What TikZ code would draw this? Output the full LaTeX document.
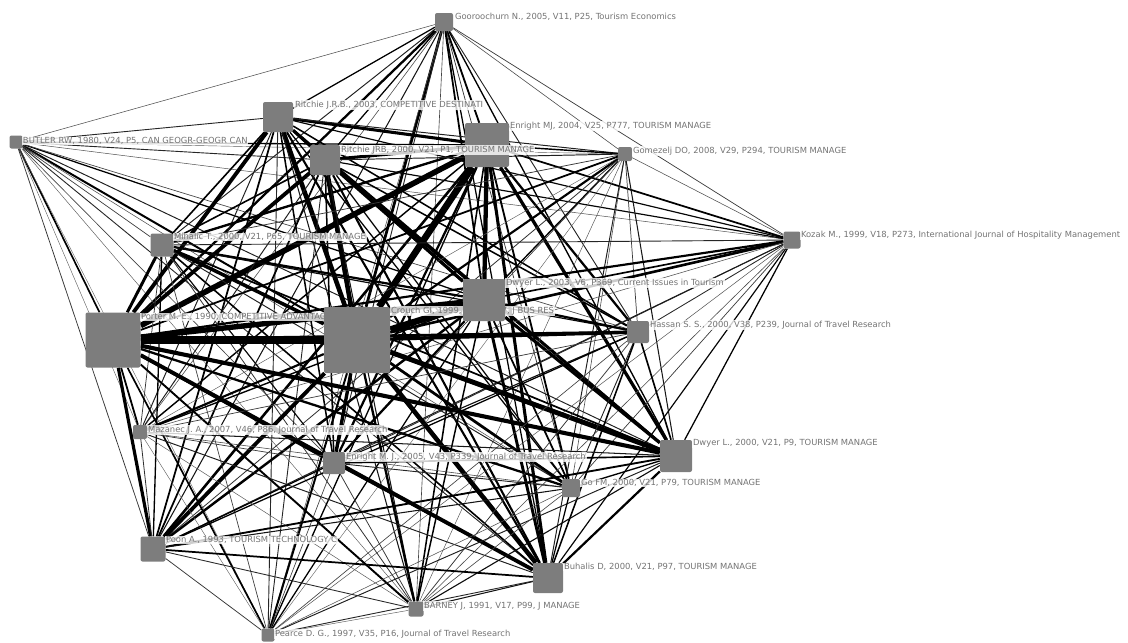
\documentclass[tikz,border=0pt]{standalone}
\usepackage{fontspec}
\setmainfont{DejaVu Sans}
\definecolor{nodegray}{HTML}{7D7D7D}
\definecolor{labelgray}{HTML}{747474}
\pgfdeclarelayer{bg}
\pgfsetlayers{bg,main}
\begin{document}
\begin{tikzpicture}[x=1pt,y=-1pt,
  nd/.style={draw=none,fill=nodegray,rounded corners=2pt,inner sep=0pt,minimum size=#1},
  lb/.style={anchor=west,font=\fontsize{8.4}{9}\selectfont,text=labelgray,fill=white,fill opacity=0.8,text opacity=1,inner sep=0.8pt}]
\useasboundingbox (0,0) rectangle (1128,643);
% sizes
\def\sGO{18}\def\sBU{13}\def\sRT{30}\def\sEF{44}\def\sRZ{30}\def\sGM{14}\def\sKO{17}
\def\sMI{23}\def\sDT{42}\def\sPO{55}\def\sCR{66}\def\sHA{22}\def\sMA{14}\def\sEV{22}
\def\sDZ{32}\def\sGF{18}\def\sPN{25}\def\sBH{30}\def\sBA{15}\def\sPE{13}
% nodes and labels
\node[nd=18pt] (GO) at (444,22) {};
\node[lb] (lGO) at (454,17) {Gooroochurn N., 2005, V11, P25, Tourism Economics};
\node[nd=13pt] (BU) at (16,142) {};
\node[lb] (lBU) at (22,141) {BUTLER RW, 1980, V24, P5, CAN GEOGR-GEOGR CAN};
\node[nd=30pt] (RT) at (278,117) {};
\node[lb] (lRT) at (294,105) {Ritchie J.R.B., 2003, COMPETITIVE DESTINATI};
\node[nd=44pt] (EF) at (487,145) {};
\node[lb] (lEF) at (509,126) {Enright MJ, 2004, V25, P777, TOURISM MANAGE};
\node[nd=30pt] (RZ) at (325,160) {};
\node[lb] (lRZ) at (340,150) {Ritchie JRB, 2000, V21, P1, TOURISM MANAGE};
\node[nd=14pt] (GM) at (625,154) {};
\node[lb] (lGM) at (632,151) {Gomezelj DO, 2008, V29, P294, TOURISM MANAGE};
\node[nd=17pt] (KO) at (792,240) {};
\node[lb] (lKO) at (800,235) {Kozak M., 1999, V18, P273, International Journal of Hospitality Management};
\node[nd=23pt] (MI) at (162,245) {};
\node[lb] (lMI) at (173,237) {Mihalic T., 2000, V21, P65, TOURISM MANAGE};
\node[nd=55pt] (PO) at (113,340) {};
\node[lb] (lPO) at (140,317) {Porter M. E., 1990, COMPETITIVE ADVANTAG};
\node[nd=66pt] (CR) at (357,340) {};
\node[lb] (lCR) at (390,311) {Crouch GI, 1999, V44, P137, J BUS RES};
\node[nd=42pt] (DT) at (484,300) {};
\node[lb] (lDT) at (505,283) {Dwyer L., 2003, V6, P369, Current Issues in Tourism};
\node[nd=22pt] (HA) at (638,332) {};
\node[lb] (lHA) at (649,325) {Hassan S. S., 2000, V38, P239, Journal of Travel Research};
\node[nd=14pt] (MA) at (140,432) {};
\node[lb] (lMA) at (147,430) {Mazanec J. A., 2007, V46, P86, Journal of Travel Research};
\node[nd=22pt] (EV) at (334,463) {};
\node[lb] (lEV) at (345,457) {Enright M. J., 2005, V43, P339, Journal of Travel Research};
\node[nd=32pt] (DZ) at (676,456) {};
\node[lb] (lDZ) at (692,443) {Dwyer L., 2000, V21, P9, TOURISM MANAGE};
\node[nd=18pt] (GF) at (571,488) {};
\node[lb] (lGF) at (580,483) {Go FM, 2000, V21, P79, TOURISM MANAGE};
\node[nd=25pt] (PN) at (153,549) {};
\node[lb] (lPN) at (165,540) {Poon A., 1993, TOURISM TECHNOLOGY C};
\node[nd=30pt] (BH) at (548,578) {};
\node[lb] (lBH) at (563,567) {Buhalis D, 2000, V21, P97, TOURISM MANAGE};
\node[nd=15pt] (BA) at (416,609) {};
\node[lb] (lBA) at (423,606) {BARNEY J, 1991, V17, P99, J MANAGE};
\node[nd=13pt] (PE) at (268,635) {};
\node[lb] (lPE) at (274,634) {Pearce D. G., 1997, V35, P16, Journal of Travel Research};
% edges
\begin{pgfonlayer}{bg}
\foreach \a [count=\i] in {GO,BU,RT,EF,RZ,GM,KO,MI,DT,PO,CR,HA,MA,EV,DZ,GF,PN,BH,BA,PE}{
  \foreach \b [count=\j] in {GO,BU,RT,EF,RZ,GM,KO,MI,DT,PO,CR,HA,MA,EV,DZ,GF,PN,BH,BA,PE}{
    \ifnum\j>\i
      \pgfmathsetmacro{\w}{min(10,\csname s\a\endcsname*\csname s\b\endcsname/430)}
      \pgfmathtruncatemacro{\pc}{min(100,45+\w*45)}
      \draw[line width=\w pt,color=black!\pc] (\a) -- (\b);
    \fi
  }
}
\end{pgfonlayer}
\end{tikzpicture}
\end{document}
